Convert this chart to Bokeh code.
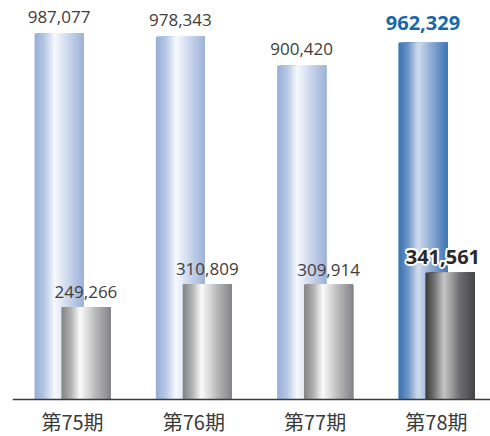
import numpy as np
from bokeh.plotting import figure
from bokeh.models import Range1d, Span
from bokeh.core.properties import value
from bokeh.embed import file_html
from bokeh.resources import INLINE

# ---- data ----
categories = ["第75期", "第76期", "第77期", "第78期"]
series_a = [987077, 978343, 900420, 962329]
series_b = [249266, 310809, 309914, 341561]
highlight = 3  # index of the emphasized period

# ---- styles ----
BAR_W = 0.404
OFF = 0.111
PX = 2697.0  # value units per pixel
stops_a = [(0.0, "#97aed7"), (0.2, "#b6c7e5"), (0.41, "#f7f9fd"), (0.7, "#c9d5eb"), (1.0, "#9db2d8")]
stops_a_hl = [(0.0, "#3771b0"), (0.2, "#6d96c8"), (0.40, "#d2dcee"), (0.7, "#86a6d0"), (1.0, "#3d77b5")]
stops_b = [(0.0, "#828282"), (0.2, "#b4b4b4"), (0.38, "#fbfbfb"), (0.7, "#b8b8ba"), (1.0, "#86868a")]
stops_b_hl = [(0.0, "#383838"), (0.2, "#7a7a7a"), (0.38, "#c6c6c6"), (0.7, "#6e6e70"), (1.0, "#46464a")]

def hex2rgb(h):
    h = h.lstrip("#")
    return np.array([int(h[i:i + 2], 16) for i in (0, 2, 4)], dtype=float)

def grad_color(stops, t):
    for (t0, c0), (t1, c1) in zip(stops[:-1], stops[1:]):
        if t <= t1:
            f = (t - t0) / (t1 - t0) if t1 > t0 else 0
            c = hex2rgb(c0) * (1 - f) + hex2rgb(c1) * f
            return "#%02x%02x%02x" % tuple(int(round(v)) for v in c)
    return stops[-1][1]

W, H = 490, 436
LEFT = 12
BASE = 399  # baseline pixel row
p = figure(width=W, height=H, output_backend="svg", toolbar_location=None,
           x_range=Range1d(-0.4946, -0.4946 + (W - LEFT) / 121.3),
           y_range=Range1d(-(H - BASE) * PX, BASE * PX),
           min_border_left=LEFT, min_border_right=0, min_border_top=0, min_border_bottom=0,
           x_axis_location=None, y_axis_location=None)
p.background_fill_color = "white"
p.border_fill_color = "white"
p.outline_line_color = None
p.grid.visible = False

N = 60

def draw_bar(cx, top, stops):
    left = cx - BAR_W / 2
    right = cx + BAR_W / 2
    lefts, rights, tops, bottoms, colors = [], [], [], [], []
    for k in range(N):
        t = (k + 0.5) / N
        lefts.append(left + BAR_W * k / N)
        rights.append(right)
        tops.append(top)
        bottoms.append(0)
        colors.append(grad_color(stops, t))
    p.quad(left=lefts, right=rights, top=tops, bottom=bottoms,
           fill_color=colors, line_color=None)

xs = np.arange(len(categories), dtype=float)
for i, v in enumerate(series_a):
    draw_bar(xs[i] - OFF, v, stops_a_hl if i == highlight else stops_a)
for i, v in enumerate(series_b):
    draw_bar(xs[i] + OFF, v, stops_b_hl if i == highlight else stops_b)

# baseline
p.add_layout(Span(location=0, dimension="width", line_color="#3a3a3a", line_width=1.3))

FONT = value("Open Sans")
normal = [i for i in range(len(categories)) if i != highlight]

# normal value labels
p.text(x=[xs[i] - OFF for i in normal], y=[series_a[i] for i in normal],
       text=[f"{series_a[i]:,}" for i in normal], text_align="center",
       text_baseline="alphabetic", y_offset=-17, text_font=FONT,
       text_font_size="17px", text_color="#3d3d3d")
p.text(x=[xs[i] + OFF for i in normal], y=[series_b[i] for i in normal],
       text=[f"{series_b[i]:,}" for i in normal], text_align="center",
       text_baseline="alphabetic", y_offset=-15, text_font=FONT,
       text_font_size="17px", text_color="#3d3d3d")

# highlighted labels
h = highlight
p.text(x=[xs[h] - OFF], y=[series_a[h]], text=[f"{series_a[h]:,}"],
       text_align="center", text_baseline="alphabetic", y_offset=-20,
       text_font=FONT, text_font_size="20px", text_font_style="bold",
       text_color="#1a68aa")
for dx, dy in [(-2, 0), (2, 0), (0, -2), (0, 2), (-1.5, -1.5), (1.5, -1.5), (-1.5, 1.5), (1.5, 1.5)]:
    p.text(x=[xs[h] + OFF], y=[series_b[h]], text=[f"{series_b[h]:,}"],
           text_align="center", text_baseline="alphabetic",
           x_offset=-7 + dx, y_offset=-16 + dy,
           text_font=FONT, text_font_size="20px", text_font_style="bold",
           text_color="white")
p.text(x=[xs[h] + OFF], y=[series_b[h]], text=[f"{series_b[h]:,}"],
       text_align="center", text_baseline="alphabetic", x_offset=-7, y_offset=-16,
       text_font=FONT, text_font_size="20px", text_font_style="bold",
       text_color="#2a2a2a")

# category labels
p.text(x=list(xs), y=[0] * len(categories), text=categories,
       text_align="center", text_baseline="alphabetic", y_offset=22,
       text_font=value("Noto Sans CJK JP"), text_font_size="20px",
       text_color="#3a3a3a")

open("out.html", "w").write(file_html(p, INLINE))
